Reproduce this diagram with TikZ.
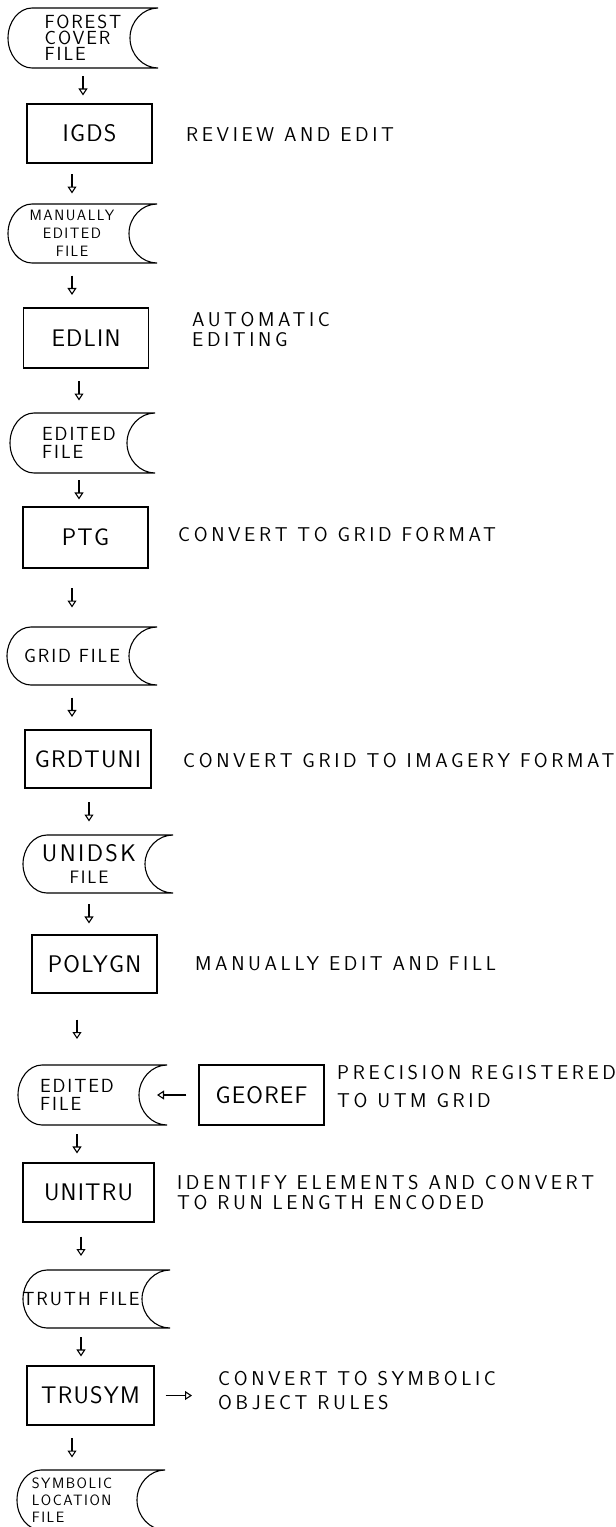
\documentclass[tikz,border=0pt]{standalone}
\usepackage{fontspec}
\newfontfamily\notefont{lmsans17-regular.otf}[LetterSpace=18]
\newfontfamily\procfont{lmsans17-regular.otf}[LetterSpace=5]
\newfontfamily\filefont{lmsans17-regular.otf}[LetterSpace=10]
\usepackage{tikz}
\usetikzlibrary{arrows.meta, calc}

\newcommand\storedfile[3]{%
  \coordinate (#1-notch) at ($(#1.center)+(#3-28,0)$);
  \draw [fileline] ($(#1.north)+(-#2+24,0)$) -- ($(#1.north)+(#3,0)$)
    .. controls ($(#1.north)+(#3-15,0)$) and ($(#1.center)!0.55!(#1.north)+(#3-28,0)$) .. (#1-notch)
    .. controls ($(#1.center)!0.55!(#1.south)+(#3-28,0)$) and ($(#1.south)+(#3-15,0)$) .. ($(#1.south)+(#3,0)$)
    -- ($(#1.south)+(-#2+24,0)$)
    .. controls ($(#1.south)+(-#2+11,0)$) and ($(#1.center)!0.55!(#1.south)+(-#2,0)$) .. ($(#1.center)+(-#2,0)$)
    .. controls ($(#1.center)!0.55!(#1.north)+(-#2,0)$) and ($(#1.north)+(-#2+11,0)$) .. cycle;
}

\begin{document}
\begin{tikzpicture}[
    x=1pt, y=-1pt,
    procnode/.style={rectangle, draw, line width=1.1pt, minimum width=125pt, minimum height=59pt, inner sep=0pt, font=\procfont\fontsize{24}{25}\selectfont},
    filenode/.style={rectangle, inner sep=0pt, outer sep=0pt, minimum height=59pt, align=left, font=\filefont\fontsize{19}{18}\selectfont},
    notenode/.style={anchor=west, inner sep=0pt, align=left, font=\notefont\fontsize{20}{20}\selectfont},
    fileline/.style={line width=1.1pt},
    line/.style={draw, line width=1.1pt, -{Triangle[open, length=7pt, width=9pt]}}
]

    \useasboundingbox (0,0) rectangle (616,1527);

    \node [filenode, minimum height=60pt, font=\filefont\fontsize{19}{16}\selectfont] (forest) at (83,38) {FOREST\\COVER\\FILE};
    \node [procnode] (igds) at (89.5,133.5) {IGDS};
    \node [notenode] (igdsnote) at (186,135) {REVIEW AND EDIT};

    \node [filenode, align=center, font=\filefont\fontsize{15}{18}\selectfont] (manual) at (72,233.5) {MANUALLY\\EDITED\\FILE};
    \node [procnode, minimum height=60pt] (edlin) at (86,338) {EDLIN};
    \node [notenode] (edlinnote) at (192,329) {AUTOMATIC\\EDITING};

    \node [filenode, minimum height=60pt] (edited) at (79,443) {EDITED\\FILE};
    \node [procnode, minimum height=61pt] (ptg) at (85.5,537.5) {PTG};
    \node [notenode] (ptgnote) at (178,535) {CONVERT TO GRID FORMAT};

    \node [filenode, minimum height=58pt] (grid) at (72,656) {GRID FILE};
    \node [procnode, minimum width=126pt, minimum height=58pt] (grdtuni) at (88,759) {GRDTUNI};
    \node [notenode] (grdtuninote) at (183,761) {CONVERT GRID TO IMAGERY FORMAT};

    \node [filenode, minimum height=58pt, align=center, font=\filefont\fontsize{24}{22}\selectfont] (unidsk) at (89,864) {UNIDSK\\{\fontsize{18}{18}\selectfont FILE}};
    \node [procnode, minimum height=58pt] (polygn) at (94.5,964) {POLYGN};
    \node [notenode] (polygnnote) at (195,964) {MANUALLY EDIT AND FILL};

    \node [filenode, minimum height=60pt] (edited2) at (77,1095) {EDITED\\FILE};
    \node [procnode, minimum height=60pt] (georef) at (261.5,1095) {GEOREF};
    \node [notenode, font=\notefont\fontsize{20}{28}\selectfont] (georefnote) at (337,1087) {PRECISION REGISTERED\\TO UTM GRID};

    \node [procnode, minimum width=131pt] (unitru) at (88.5,1192.5) {UNITRU};
    \node [notenode] (unitrunote) at (177,1193) {IDENTIFY ELEMENTS AND CONVERT\\TO RUN LENGTH ENCODED};

    \node [filenode, minimum height=58pt] (truth) at (81,1299) {TRUTH FILE};
    \node [procnode, minimum width=127pt] (trusym) at (90.5,1395.5) {TRUSYM};
    \node [notenode, font=\notefont\fontsize{20}{24}\selectfont] (trusymnote) at (218,1391) {CONVERT TO SYMBOLIC\\OBJECT RULES};

    \node [filenode, minimum height=60pt, font=\filefont\fontsize{15}{17}\selectfont] (symbolic) at (72,1500) {SYMBOLIC\\LOCATION\\FILE};

    \storedfile{forest}{75}{75}
    \storedfile{manual}{64}{85}
    \storedfile{edited}{69}{76}
    \storedfile{grid}{65}{85}
    \storedfile{unidsk}{66}{84}
    \storedfile{edited2}{59}{90}
    \storedfile{truth}{58}{89}
    \storedfile{symbolic}{55}{93}

    \draw [line, shorten <=8pt, shorten >=8pt] (forest.south) -- (forest.south |- igds.north);
    \draw [line, shorten <=10.5pt, shorten >=10.5pt] (igds.south -| manual.north) -- (manual.north);
    \draw [line, shorten <=12.5pt, shorten >=12.5pt] (manual.south) -- (manual.south |- edlin.north);
    \draw [line, shorten <=12.5pt, shorten >=12.5pt] (edlin.south -| edited.north) -- (edited.north);
    \draw [line, shorten <=7pt, shorten >=7pt] (edited.south) -- (edited.south |- ptg.north);
    \draw [line, shorten <=19.5pt, shorten >=19.5pt] (ptg.south -| grid.north) -- (grid.north);
    \draw [line, shorten <=12.5pt, shorten >=12.5pt] (grid.south) -- (grid.south |- grdtuni.north);
    \draw [line, shorten <=13.5pt, shorten >=13.5pt] (grdtuni.south -| unidsk.north) -- (unidsk.north);
    \draw [line, shorten <=11pt, shorten >=11pt] (unidsk.south) -- (unidsk.south |- polygn.north);
    \draw [line, shorten <=26pt, shorten >=26pt] (polygn.south -| edited2.north) -- (edited2.north);
    \draw [line, shorten <=9pt, shorten >=9pt] (edited2.south) -- (edited2.south |- unitru.north);
    \draw [line, shorten <=14pt, shorten >=14pt] (unitru.south -| truth.north) -- (truth.north);
    \draw [line, shorten <=9pt, shorten >=9pt] (truth.south) -- (truth.south |- trusym.north);
    \draw [line, shorten <=12.5pt, shorten >=12.5pt] (trusym.south -| symbolic.north) -- (symbolic.north);

    \draw [line, shorten <=12pt, shorten >=18pt] (georef.west) -- (edited2-notch);
    \draw [line, shorten <=11pt, shorten >=26pt] (trusym.east) -- (trusym.east -| trusymnote.west);

\end{tikzpicture}
\end{document}
